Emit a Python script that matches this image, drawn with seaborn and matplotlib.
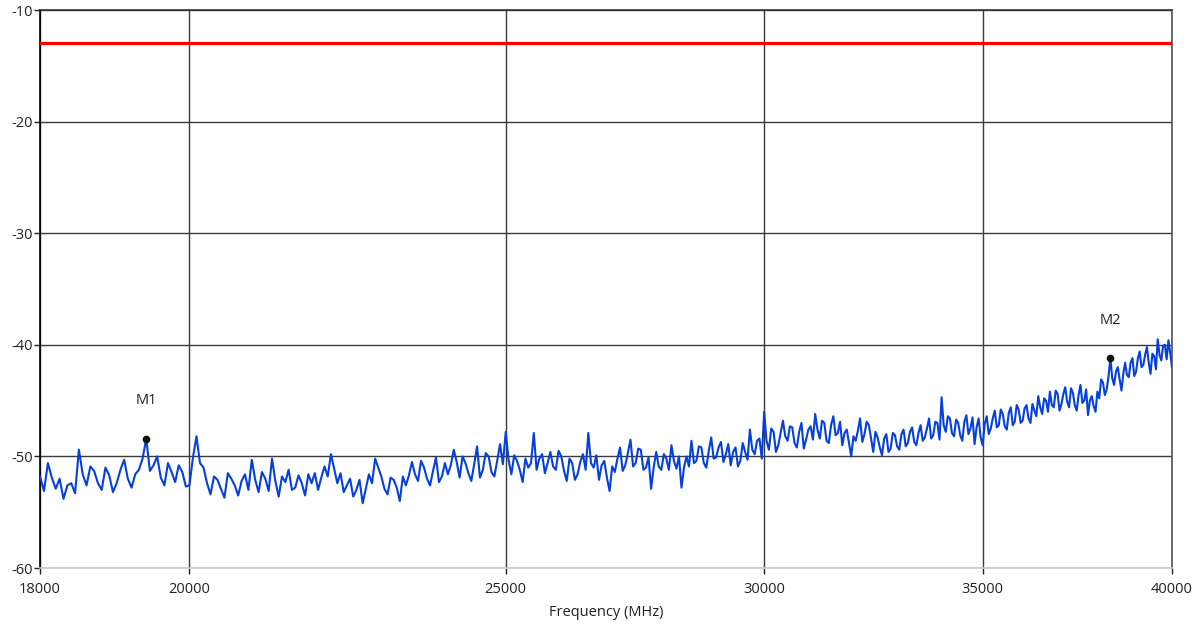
import numpy as np
import pandas as pd
import matplotlib
matplotlib.use("Agg")
import matplotlib.pyplot as plt
from matplotlib.ticker import FixedLocator, FixedFormatter, NullLocator
import seaborn as sns

# sweep grid, 50 MHz step from 18 GHz to 40 GHz
freq = np.arange(18000, 40001, 50)

# trace level (dBm), one row per 1 GHz
level = [
    -51.8, -53.1, -50.6, -51.9, -52.9, -52.0, -53.8, -52.6, -52.4, -53.3,
    -49.4, -51.6, -52.6, -50.9, -51.3, -52.4, -53.0, -51.0, -51.7, -53.2,  # 18000
    -52.4, -51.2, -50.3, -52.0, -52.8, -51.6, -51.2, -50.2, -48.4, -51.3,
    -50.8, -50.0, -51.9, -52.6, -50.6, -51.4, -52.3, -50.8, -51.4, -52.7,  # 19000
    -52.6, -50.1, -48.2, -50.6, -51.0, -52.4, -53.4, -51.8, -52.1, -52.9,
    -53.7, -51.5, -52.0, -52.6, -53.5, -52.2, -51.6, -53.0, -50.3, -52.1,  # 20000
    -53.2, -51.4, -52.0, -53.1, -50.2, -52.2, -53.6, -51.8, -52.3, -51.2,
    -53.0, -52.8, -51.7, -52.4, -53.5, -51.6, -52.4, -51.5, -53.0, -51.9,  # 21000
    -50.9, -51.8, -49.8, -51.1, -52.4, -51.5, -53.2, -52.6, -52.0, -53.6,
    -53.0, -52.1, -54.2, -52.9, -51.6, -52.4, -50.2, -51.0, -51.8, -52.9,  # 22000
    -53.4, -51.9, -52.1, -52.8, -54.0, -51.8, -52.6, -51.7, -50.5, -51.6,
    -52.2, -50.4, -51.0, -52.0, -52.6, -51.3, -50.1, -52.3, -51.8, -50.6,  # 23000
    -51.6, -50.8, -49.4, -50.5, -51.9, -50.0, -50.6, -51.5, -52.2, -50.7,
    -49.1, -51.9, -51.2, -49.7, -50.0, -51.4, -51.8, -50.4, -48.9, -50.7,  # 24000
    -47.8, -50.3, -51.6, -49.9, -50.4, -51.2, -52.3, -50.2, -51.0, -50.6,
    -47.9, -51.2, -50.2, -49.8, -51.5, -50.6, -49.6, -50.9, -51.2, -49.5,  # 25000
    -50.0, -51.3, -52.2, -50.2, -50.6, -52.1, -51.6, -50.5, -49.8, -51.2,
    -47.9, -50.6, -51.0, -49.9, -52.1, -50.8, -50.4, -51.9, -53.1, -50.9,  # 26000
    -51.4, -50.2, -49.2, -51.3, -50.8, -49.7, -48.5, -50.9, -50.6, -49.3,
    -49.4, -51.2, -51.0, -50.1, -52.9, -51.0, -49.6, -50.9, -51.2, -49.8,  # 27000
    -50.2, -51.2, -49.0, -50.4, -51.1, -50.0, -52.8, -51.0, -50.0, -50.9,
    -48.6, -50.6, -50.4, -49.1, -49.2, -50.6, -51.0, -49.5, -48.3, -50.2,  # 28000
    -50.1, -49.2, -48.7, -50.5, -49.8, -48.9, -50.8, -49.6, -49.2, -50.9,
    -50.4, -48.8, -49.6, -50.3, -47.6, -49.4, -49.8, -48.6, -48.4, -50.2,  # 29000
    -46.0, -48.6, -49.4, -47.5, -47.8, -49.6, -49.0, -47.9, -46.8, -48.2,
    -48.6, -47.3, -47.4, -48.8, -49.2, -47.8, -47.0, -49.3, -48.5, -47.6,  # 30000
    -47.3, -48.5, -46.2, -47.6, -48.4, -46.8, -47.0, -48.6, -48.8, -47.2,
    -46.4, -48.1, -47.9, -46.9, -49.0, -47.9, -47.6, -48.8, -50.0, -48.2,  # 31000
    -48.6, -47.7, -46.6, -48.7, -48.0, -46.9, -47.2, -48.4, -49.6, -47.8,
    -48.3, -49.2, -49.9, -48.4, -48.0, -49.6, -49.3, -47.9, -48.1, -49.1,  # 32000
    -49.4, -48.0, -47.6, -49.1, -48.8, -47.8, -47.4, -48.7, -49.0, -47.9,
    -47.2, -48.6, -48.3, -47.5, -46.6, -48.4, -48.1, -46.9, -47.0, -48.5,  # 33000
    -44.7, -47.2, -47.8, -46.4, -46.6, -47.9, -48.2, -46.7, -47.0, -48.1,
    -48.6, -46.9, -46.3, -48.0, -47.5, -46.5, -48.9, -47.4, -46.6, -48.3,  # 34000
    -49.0, -47.1, -46.4, -48.0, -47.5, -46.6, -45.9, -47.4, -47.2, -45.8,
    -46.2, -47.3, -47.6, -46.1, -45.6, -47.2, -46.9, -45.4, -45.8, -47.0,  # 35000
    -46.8, -45.7, -45.4, -46.6, -47.0, -45.3, -45.9, -46.4, -44.6, -45.6,
    -46.2, -44.8, -45.0, -46.0, -44.2, -45.4, -45.6, -44.1, -44.4, -45.9,  # 36000
    -45.3, -44.4, -43.8, -45.1, -45.6, -43.9, -44.3, -45.4, -45.9, -44.5,
    -43.6, -45.2, -45.0, -44.0, -46.3, -45.0, -44.6, -45.5, -46.0, -44.2,  # 37000
    -44.8, -43.1, -43.4, -44.5, -44.0, -42.8, -41.2, -43.0, -43.6, -42.4,
    -42.0, -43.1, -44.1, -42.6, -41.6, -42.7, -42.9, -41.6, -41.2, -42.8,  # 38000
    -42.4, -41.2, -40.6, -42.0, -41.8, -40.9, -40.2, -41.6, -42.6, -40.8,
    -41.0, -42.2, -39.5, -40.9, -41.4, -40.1, -40.0, -41.3, -39.6, -40.7,  # 39000
    -42.0,
]

limit_level = -13.0
marker_names = ["M1", "M2"]
marker_freq = [19400, 38300]

xticks = [18000, 20000, 25000, 30000, 35000, 40000]
yticks = [-10, -20, -30, -40, -50, -60]

sns.set_style("white")
plt.rcParams["font.family"] = ["Open Sans", "DejaVu Sans"]

df = pd.DataFrame({"freq": freq, "level": level})

fig = plt.figure(figsize=(12.03, 6.37), dpi=100)
ax = fig.add_axes([0.0333, 0.1083, 0.9409, 0.876])

ax.axhline(limit_level, color="#ff0000", lw=2.3, zorder=3)
sns.lineplot(data=df, x="freq", y="level", color="#0640dc", lw=1.5,
             estimator=None, sort=False, ax=ax, zorder=4)

for name, f in zip(marker_names, marker_freq):
    v = df.loc[df["freq"] == f, "level"].iloc[0]
    ax.plot([f], [v], "o", color="#111111", ms=4.5, zorder=5)
    ax.annotate(name, (f, v), xytext=(0, 22), textcoords="offset points",
                ha="center", va="bottom", fontsize=10.5, color="#222222")

ax.set_xscale("log")
ax.set_xlim(18000, 40000)
ax.set_ylim(-60, -10)
ax.xaxis.set_major_locator(FixedLocator(xticks))
ax.xaxis.set_major_formatter(FixedFormatter([str(t) for t in xticks]))
ax.xaxis.set_minor_locator(NullLocator())
ax.set_yticks(yticks)
ax.set_yticklabels([str(t) for t in yticks])

ax.grid(True, color="#3a3a3a", lw=1.0)
ax.tick_params(axis="both", direction="out", length=4, width=1, colors="#222222",
               labelsize=10.5, bottom=True, left=True)
ax.tick_params(axis="x", pad=6)
ax.tick_params(axis="y", pad=1)

ax.spines["left"].set_color("#000000")
ax.spines["top"].set_color("#333333")
ax.spines["right"].set_color("#555555")
ax.spines["bottom"].set_color("#cccccc")
for s in ax.spines.values():
    s.set_linewidth(1.2)

ax.set_xlabel("Frequency (MHz)", fontsize=10.5, color="#222222", labelpad=6)
ax.set_ylabel("")

fig.savefig("out.png", dpi=100)
